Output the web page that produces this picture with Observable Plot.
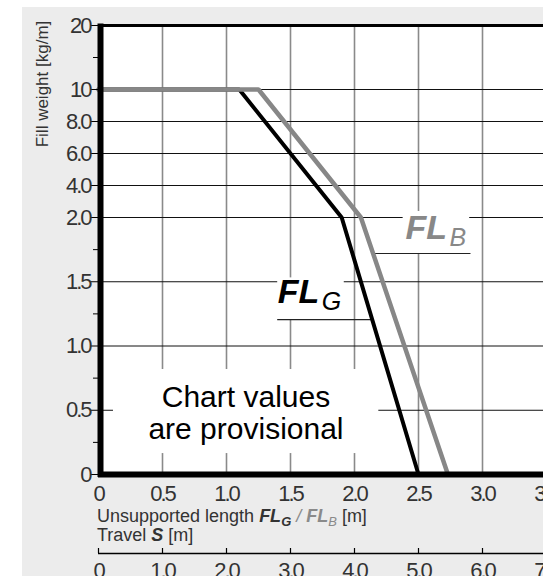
<!DOCTYPE html>
<html><head><meta charset="utf-8">
<script src="https://cdn.jsdelivr.net/npm/d3@7"></script>
<script src="https://cdn.jsdelivr.net/npm/@observablehq/plot@0.6"></script>
<style>
html,body{margin:0;padding:0;background:#fff;overflow:hidden;}
#wrap{position:relative;width:543px;height:576px;overflow:hidden;font-family:"Liberation Sans",Arial,sans-serif;}
#bg{position:absolute;left:22px;top:7px;right:0;bottom:0;background:#ececec;}
#chart,#travel{position:absolute;left:0;}
#chart{top:0;}
#travel{top:540px;}
#ylabel{position:absolute;left:43px;top:84px;transform:translate(-50%,-50%) rotate(-90deg);white-space:nowrap;font-size:17px;color:#333;}
#xlabel{position:absolute;left:97px;top:507px;font-size:18px;line-height:19px;color:#333;white-space:nowrap;}
#xlabel sub{font-size:0.72em;vertical-align:-0.28em;line-height:0;}
g[aria-label*="tick label"] text{letter-spacing:-2px;}
</style>
</head><body>
<div id="wrap">
  <div id="bg"></div>
  <div id="chart"></div>
  <div id="travel"></div>
  <div id="ylabel">Fill weight [kg/m]</div>
  <div id="xlabel">Unsupported length <b><i>FL<sub>G</sub></i></b> <span style="color:#8a8a8a"><i>/ <b>FL</b><sub>B</sub></i></span> [m]<br>Travel <b><i>S</i></b> [m]</div>
</div>
<script>
// ---- data ----
const xTicks = [0, 0.5, 1, 1.5, 2, 2.5, 3, 3.5];
const xTickLabels = ["0", "0.5", "1.0", "1.5", "2.0", "2.5", "3.0", "3.5"];
const yTicks = [0, 0.5, 1, 1.5, 2, 4, 6, 8, 10, 20];
const yTickLabels = ["0", "0.5", "1.0", "1.5", "2.0", "4.0", "6.0", "8.0", "10", "20"];
const yMinorTicks = [0.25, 0.75, 1.25, 1.75, 15];
const yGridLines = [0.5, 1, 1.5, 2, 4, 6, 8, 10];
const yBreaks = [0, 2, 10, 20];
const travelTicks = [0, 1, 2, 3, 4, 5, 6, 7];
const travelTickLabels = ["0", "1.0", "2.0", "3.0", "4.0", "5.0", "6.0", "7.0"];

const flgLength = [0, 1.1, 1.9, 2.5];
const flgWeight = [10, 10, 2, 0];
const flbLength = [0, 1.25, 2.05, 2.73];
const flbWeight = [10, 10, 2, 0];

// annotations (data units)
const noteText = "Chart values\nare provisional";
const noteLength = 1.152;
const noteWeight = 0.479;
const seriesLabel = ["FL", "FL"];
const seriesSub = ["G", "B"];
const seriesColor = ["#000000", "#888888"];
const labelLength = [1.40, 2.398];
const labelWeight = [1.331, 1.829];
const boxLength1 = [0.117, 1.40, 2.38];
const boxLength2 = [2.19, 1.92, 2.90];
const boxWeight1 = [0.163, 1.206, 1.72];
const boxWeight2 = [0.817, 1.53, 2.375];
const leaderWeight = [1.206, 1.72];
const leaderFrom = [1.40, 2.15];
const leaderTo = [2.14, 2.91];

// ---- build ----
const flg = flgLength.map((l, i) => ({length: l, weight: flgWeight[i]}));
const flb = flbLength.map((l, i) => ({length: l, weight: flbWeight[i]}));
const boxes = boxLength1.map((v, i) => ({x1: v, x2: boxLength2[i], y1: boxWeight1[i], y2: boxWeight2[i]}));
const leaders = leaderWeight.map((w, i) => ({y: w, x1: leaderFrom[i], x2: leaderTo[i]}));
const labels = seriesLabel.map((t, i) => ({t, sub: seriesSub[i], c: seriesColor[i], x: labelLength[i], y: labelWeight[i]}));

const W = 620, H = 576;
const font = "Liberation Sans, Arial, sans-serif";
const svgStyle = {background: "transparent", maxWidth: "none", overflow: "visible", fontFamily: font};

const chart = Plot.plot({
  width: W, height: H,
  marginLeft: 98, marginRight: W - 546, marginTop: 25, marginBottom: H - 474,
  style: svgStyle,
  x: {domain: [0, 3.5], range: [98, 546]},
  y: {type: "linear", domain: yBreaks, range: [474, 217, 89, 25]},
  marks: [
    Plot.frame({fill: "white", stroke: null}),
    Plot.ruleX(xTicks.slice(1), {stroke: "#8a8a8a", strokeWidth: 1.6}),
    Plot.ruleY(yGridLines, {stroke: "#111", strokeWidth: 1}),
    Plot.rect(boxes, {x1: "x1", x2: "x2", y1: "y1", y2: "y2", fill: "white"}),
    Plot.ruleY(leaders, {y: "y", x1: "x1", x2: "x2", stroke: "#222", strokeWidth: 1.2}),
    Plot.line(flg, {x: "length", y: "weight", stroke: "#000", strokeWidth: 4, strokeLinejoin: "miter"}),
    Plot.line(flb, {x: "length", y: "weight", stroke: "#878787", strokeWidth: 4.5, strokeLinejoin: "miter"}),
    Plot.ruleY([20], {stroke: "#000", strokeWidth: 3}),
    Plot.ruleY([0], {stroke: "#000", strokeWidth: 6}),
    Plot.ruleX([0], {stroke: "#000", strokeWidth: 6, dx: 2, insetTop: -1.5, insetBottom: -3}),
    Plot.text([noteText], {x: noteLength, y: noteWeight, text: d => d, fontSize: 30, lineHeight: 1.05, fill: "#000", textAnchor: "middle", lineAnchor: "middle"}),
    Plot.text(labels, {x: "x", y: "y", text: "t", fill: "c", fontSize: 34, fontWeight: "bold", fontStyle: "italic", textAnchor: "start", lineAnchor: "bottom"}),
    Plot.text(labels, {x: "x", y: "y", text: "sub", fill: "c", fontSize: 25, fontStyle: "italic", textAnchor: "start", lineAnchor: "bottom", dx: 44, dy: 7}),
    Plot.axisY(yMinorTicks, {tickSize: 5, tickFormat: () => "", label: null}),
    Plot.axisY(yTicks, {tickSize: 8, tickPadding: 0, tickFormat: d => yTickLabels[yTicks.indexOf(d)], fontSize: 22, fill: "#333", label: null}),
    Plot.axisX(xTicks, {tickSize: 0, tickPadding: 11, tickFormat: d => xTickLabels[xTicks.indexOf(d)], fontSize: 22, fill: "#333", label: null})
  ]
});
document.getElementById("chart").append(chart);

const travel = Plot.plot({
  width: W, height: 40,
  marginLeft: 98, marginRight: W - 546, marginTop: 8, marginBottom: 27,
  style: svgStyle,
  x: {domain: [0, 7], range: [98, 546]},
  y: {domain: [0, 1], range: [13, 8], axis: null},
  marks: [
    Plot.ruleY([0], {stroke: "#000", strokeWidth: 1.5}),
    Plot.tickX(travelTicks, {stroke: "#000", strokeWidth: 1.2}),
    Plot.axisX(travelTicks, {tickSize: 0, tickPadding: 9, tickFormat: d => travelTickLabels[travelTicks.indexOf(d)], fontSize: 22, fill: "#333", label: null})
  ]
});
document.getElementById("travel").append(travel);
</script>
</body></html>
